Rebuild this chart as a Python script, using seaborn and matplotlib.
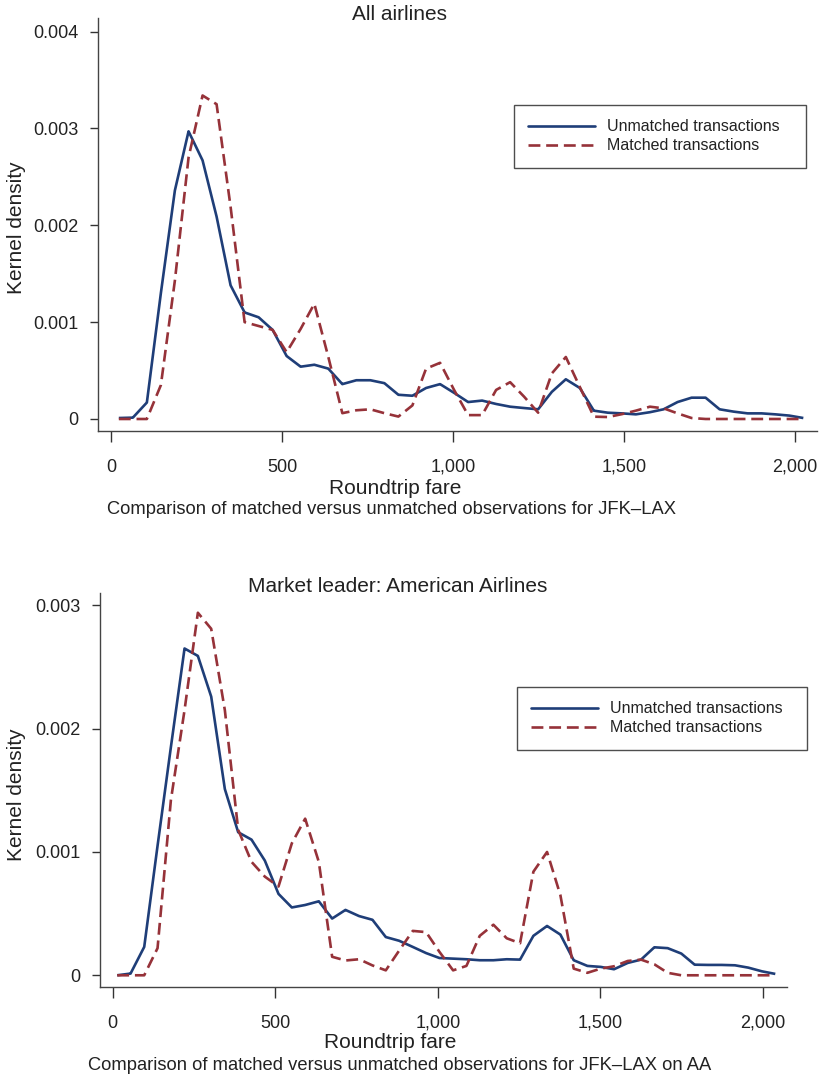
import numpy as np
import pandas as pd
import matplotlib
matplotlib.use("Agg")
import matplotlib.pyplot as plt
from matplotlib.lines import Line2D
import seaborn as sns

# ---------------- data ----------------
fare_top = [22, 63, 104, 145, 186, 226, 267, 308, 349, 390, 431, 472, 513, 554, 594,
            635, 676, 717, 758, 799, 840, 881, 921, 962, 1003, 1044, 1085, 1126, 1167,
            1208, 1249, 1289, 1330, 1371, 1412, 1453, 1494, 1535, 1576, 1616, 1657,
            1698, 1739, 1780, 1821, 1862, 1903, 1943, 1984, 2025]
unmatched_top = [0.00001, 0.000014, 0.00017, 0.0013, 0.00236, 0.00297, 0.00267, 0.00209,
                 0.00138, 0.0011, 0.00105, 0.00092, 0.00065, 0.00054, 0.00056, 0.00052,
                 0.00036, 0.0004, 0.0004, 0.00037, 0.00025, 0.00024, 0.00032, 0.00036,
                 0.00027, 0.000175, 0.00019, 0.000155, 0.000127, 0.000113, 0.0001,
                 0.00028, 0.00041, 0.00032, 0.000086, 0.000065, 0.000058, 0.000048,
                 0.00007, 0.0001, 0.000175, 0.00022, 0.00022, 0.0001, 0.000076, 0.000058,
                 0.000058, 0.000048, 0.000035, 0.00001]
matched_top = [0.0, 0.0, 0.0, 0.00035, 0.00143, 0.0027, 0.00334, 0.00325, 0.00219, 0.001,
               0.00096, 0.00092, 0.00069, 0.00093, 0.00119, 0.00064, 0.00006, 0.00009,
               0.0001, 0.00006, 0.000025, 0.00014, 0.00052, 0.00058, 0.0003, 0.00004,
               0.00004, 0.0003, 0.00038, 0.00023, 0.000065, 0.00047, 0.00064, 0.00033,
               0.000024, 0.00002, 0.00005, 0.000086, 0.000127, 0.00011, 0.000058, 0.00001,
               0.0, 0.0, 0.0, 0.0, 0.0, 0.0, 0.0, 0.0]

fare_bot = [14, 55, 97, 138, 179, 221, 262, 303, 345, 386, 427, 468, 510, 551, 592, 634,
            675, 716, 758, 799, 840, 881, 923, 964, 1005, 1047, 1088, 1129, 1171, 1212,
            1253, 1294, 1336, 1377, 1418, 1460, 1501, 1542, 1584, 1625, 1666, 1707, 1749,
            1790, 1831, 1873, 1914, 1955, 1997, 2038]
unmatched_bot = [0.0, 0.000014, 0.00023, 0.00105, 0.00185, 0.00265, 0.00259, 0.00226,
                 0.00151, 0.00116, 0.0011, 0.00093, 0.00066, 0.00055, 0.00057, 0.0006,
                 0.00046, 0.00053, 0.00048, 0.00045, 0.00031, 0.00028, 0.00023, 0.00018,
                 0.00014, 0.000135, 0.00013, 0.000122, 0.000122, 0.00013, 0.000127,
                 0.00032, 0.0004, 0.00033, 0.000122, 0.000076, 0.000068, 0.000049, 0.0001,
                 0.000127, 0.000227, 0.00022, 0.000176, 0.000086, 0.000084, 0.000084,
                 0.000081, 0.000062, 0.000032, 0.000011]
matched_bot = [0.0, 0.0, 0.0, 0.00022, 0.00142, 0.00215, 0.00294, 0.00281, 0.00215, 0.00118,
               0.00092, 0.0008, 0.00072, 0.00107, 0.00127, 0.00092, 0.00015, 0.00012,
               0.00013, 0.00008, 0.00004, 0.0002, 0.00036, 0.00035, 0.00019, 0.00004,
               0.000076, 0.00032, 0.00041, 0.0003, 0.00026, 0.00084, 0.001, 0.00065,
               0.000054, 0.00002, 0.000054, 0.000073, 0.000116, 0.000127, 0.000089,
               0.00002, 0.0, 0.0, 0.0, 0.0, 0.0, 0.0, 0.0, 0.0]

series_labels = ["Unmatched transactions", "Matched transactions"]
x_ticks = [0, 500, 1000, 1500, 2000]
x_ticklabels = ["0", "500", "1,000", "1,500", "2,000"]
y_ticks_top = [0, 0.001, 0.002, 0.003, 0.004]
y_ticklabels_top = ["0", "0.001", "0.002", "0.003", "0.004"]
y_ticks_bot = [0, 0.001, 0.002, 0.003]
y_ticklabels_bot = ["0", "0.001", "0.002", "0.003"]
titles = ["All airlines", "Market leader: American Airlines"]
captions = ["Comparison of matched versus unmatched observations for JFK\u2013LAX",
            "Comparison of matched versus unmatched observations for JFK\u2013LAX on AA"]

# ---------------- style ----------------
sns.set_style("ticks")
plt.rcParams['font.family'] = ['Liberation Sans', 'DejaVu Sans']
NAVY = "#1f3e78"
MAROON = "#963239"
W, H = 820, 1080
fig = plt.figure(figsize=(W / 100, H / 100), dpi=100)


def fx(px):
    return px / W


def fy(py):
    return 1 - py / H


def make_df(x, u, m):
    return pd.DataFrame({
        "fare": list(x) + list(x),
        "density": list(u) + list(m),
        "series": [series_labels[0]] * len(x) + [series_labels[1]] * len(x),
    })


panels = [
    dict(rect=(98, 18, 817, 431), df=make_df(fare_top, unmatched_top, matched_top),
         xlim=(-39, 2065), ylim=(-0.000124, 0.00414), yt=y_ticks_top, ytl=y_ticklabels_top,
         title_y=15, xlabel_y=488, cap_x=107, cap_y=510, ylab_y=228, leg=(514, 105, 806, 168),
         cap=captions[0], title=titles[0], title_x=400, xlabel_x=395),
    dict(rect=(100, 593, 787, 987), df=make_df(fare_bot, unmatched_bot, matched_bot),
         xlim=(-39, 2074), ylim=(-0.000095, 0.0031), yt=y_ticks_bot, ytl=y_ticklabels_bot,
         title_y=587, xlabel_y=1042, cap_x=88, cap_y=1066, ylab_y=795, leg=(517, 687, 807, 750),
         cap=captions[1], title=titles[1], title_x=398, xlabel_x=390),
]

for p in panels:
    l, t, r, b = p["rect"]
    ax = fig.add_axes([fx(l), fy(b), fx(r) - fx(l), (b - t) / H])
    sns.lineplot(data=p["df"], x="fare", y="density", hue="series", style="series",
                 palette=[NAVY, MAROON], dashes=[(1, 0), (4.5, 2.2)], linewidth=1.9,
                 ax=ax, legend=False, estimator=None, sort=False)
    ax.set_xlim(*p["xlim"])
    ax.set_ylim(*p["ylim"])
    ax.set_xticks(x_ticks)
    ax.set_xticklabels(x_ticklabels)
    ax.set_yticks(p["yt"])
    ax.set_yticklabels(p["ytl"])
    ax.tick_params(axis="both", labelsize=13, length=6, width=1.0, color="#333333",
                   labelcolor="#222222", pad=8)
    ax.tick_params(axis="x", length=8, pad=12)
    for s in ("top", "right"):
        ax.spines[s].set_visible(False)
    for s in ("left", "bottom"):
        ax.spines[s].set_color("#444444")
        ax.spines[s].set_linewidth(1.0)
    ax.set_xlabel("")
    ax.set_ylabel("")

    handles = [Line2D([], [], color=NAVY, lw=1.9),
               Line2D([], [], color=MAROON, lw=1.9, dashes=(4.5, 2.2))]
    lx0, ly0, lx1, ly1 = p["leg"]
    leg = ax.legend(handles, series_labels, loc="upper left", mode="expand",
                    bbox_to_anchor=(fx(lx0), fy(ly1), fx(lx1) - fx(lx0), (ly1 - ly0) / H),
                    bbox_transform=fig.transFigure, fontsize=11.5, frameon=True,
                    fancybox=False, edgecolor="#222222", handlelength=4.2,
                    handletextpad=0.7, borderpad=0.9, labelspacing=0.25,
                    borderaxespad=0)
    leg.get_frame().set_linewidth(1.0)
    for txt in leg.get_texts():
        txt.set_color("#222222")

    fig.text(fx(p["title_x"]), fy(p["title_y"]), p["title"], ha="center", va="center",
             fontsize=15, color="#222222")
    fig.text(fx(p["xlabel_x"]), fy(p["xlabel_y"]), "Roundtrip fare", ha="center",
             va="center", fontsize=15, color="#222222")
    fig.text(fx(p["cap_x"]), fy(p["cap_y"]), p["cap"], ha="left", va="center",
             fontsize=13.2, color="#222222")
    fig.text(fx(17), fy(p["ylab_y"]), "Kernel density", ha="center", va="center",
             rotation=90, fontsize=15, color="#222222")

fig.savefig("out.png", dpi=100, facecolor="white")
